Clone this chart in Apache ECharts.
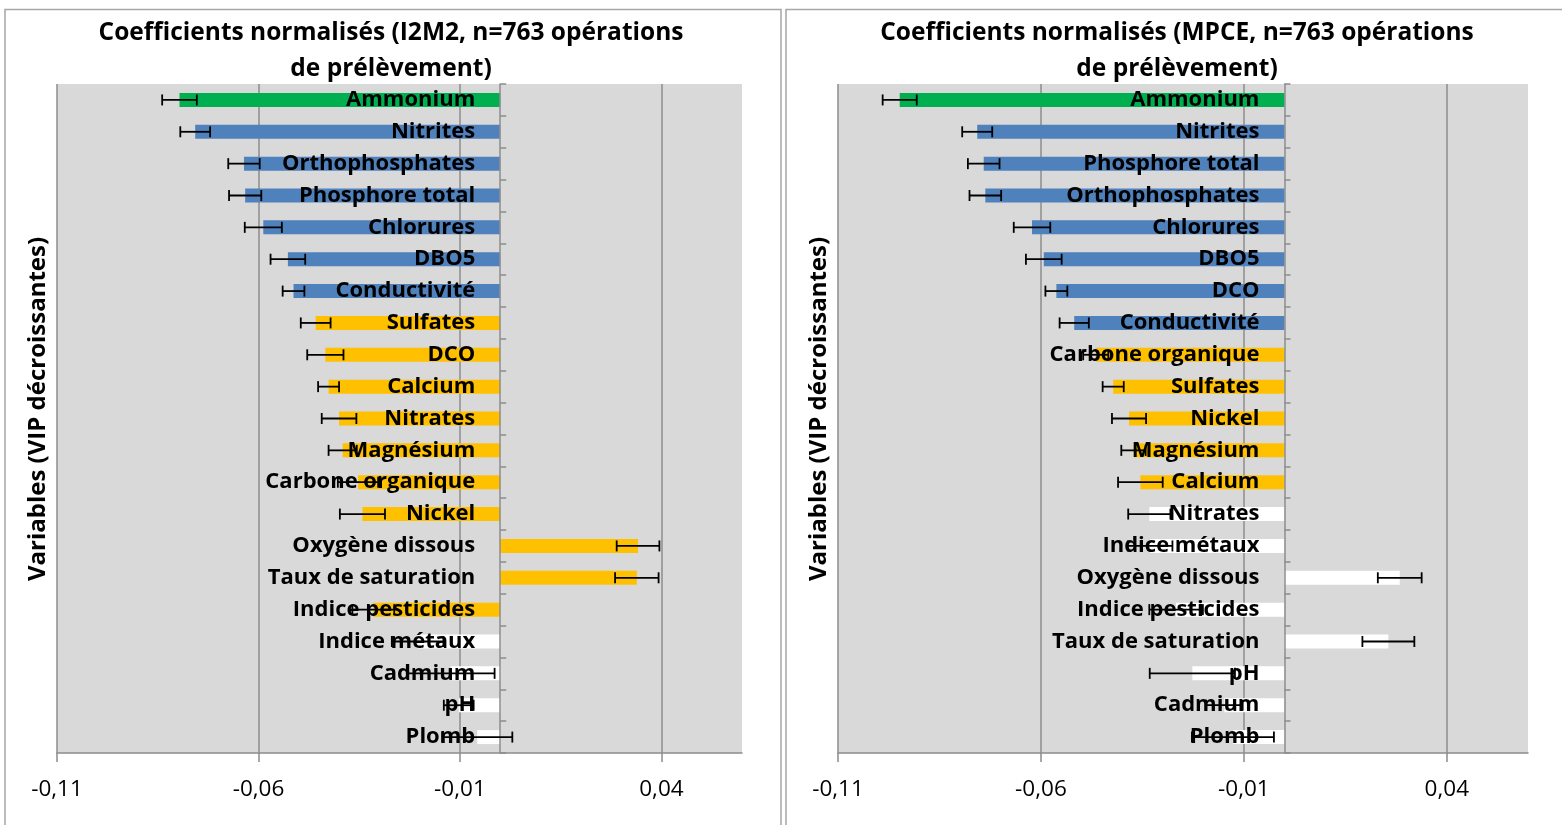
<!DOCTYPE html>
<html>
<head>
<meta charset="utf-8">
<script src="https://cdn.jsdelivr.net/npm/echarts@6/dist/echarts.min.js"></script>
<style>
html,body{margin:0;padding:0;background:#fff;}
#chart{width:1562px;height:825px;}
</style>
</head>
<body>
<div id="chart"></div>
<script>
// ---------- DATA ----------
const titleI2M2 = 'Coefficients normalisés (I2M2, n=763 opérations\nde prélèvement)';
const titleMPCE = 'Coefficients normalisés (MPCE, n=763 opérations\nde prélèvement)';
const yAxisTitle = 'Variables (VIP décroissantes)';

const catsI2M2 = ['Ammonium','Nitrites','Orthophosphates','Phosphore total','Chlorures','DBO5','Conductivité',
  'Sulfates','DCO','Calcium','Nitrates','Magnésium','Carbone organique','Nickel','Oxygène dissous',
  'Taux de saturation','Indice pesticides','Indice métaux','Cadmium','pH','Plomb'];
const valsI2M2 = [-0.0796,-0.0757,-0.0636,-0.0633,-0.0588,-0.0527,-0.0513,-0.0458,-0.0434,-0.0426,-0.0400,
  -0.0391,-0.0353,-0.0342,0.0342,0.0339,-0.0315,-0.0205,-0.0123,-0.0103,-0.0057];
const errsI2M2 = [0.0043,0.0037,0.0039,0.0040,0.0046,0.0043,0.0027,0.0037,0.0045,0.0026,0.0043,
  0.0035,0.0050,0.0056,0.0053,0.0054,0.0052,0.0064,0.0109,0.0037,0.0087];
const groupsI2M2 = ['A','B','B','B','B','B','B','C','C','C','C','C','C','C','C','C','C','D','D','D','D'];

const catsMPCE = ['Ammonium','Nitrites','Phosphore total','Orthophosphates','Chlorures','DBO5','DCO',
  'Conductivité','Carbone organique','Sulfates','Nickel','Magnésium','Calcium','Nitrates','Indice métaux',
  'Oxygène dissous','Indice pesticides','Taux de saturation','pH','Cadmium','Plomb'];
const valsMPCE = [-0.0948,-0.0757,-0.0741,-0.0737,-0.0622,-0.0593,-0.0562,-0.0518,-0.0465,-0.0422,-0.0383,
  -0.0372,-0.0355,-0.0333,-0.0331,0.0284,-0.0267,0.0256,-0.0227,-0.0148,-0.0127];
const errsMPCE = [0.0042,0.0037,0.0039,0.0039,0.0045,0.0044,0.0027,0.0036,0.0031,0.0026,0.0042,
  0.0030,0.0055,0.0052,0.0055,0.0054,0.0066,0.0064,0.0105,0.0045,0.0101];
const groupsMPCE = ['A','B','B','B','B','B','B','B','C','C','C','C','C','D','D','D','D','D','D','D','D'];

const xTicks = {min: -0.11, max: 0.06, interval: 0.05};

// ---------- STYLE ----------
const groupColors = {A:'#00B050', B:'#4F81BD', C:'#FFC000', D:'#FFFFFF'};
const FONT = '"Open Sans", "Noto Sans", sans-serif';
const AXIS_GRAY = '#8C8C8C';
const grids = [
  {left:57, top:84, width:685, height:669},
  {left:838, top:84, width:690, height:669}
];

const chart = echarts.init(document.getElementById('chart'), null, {renderer:'canvas'});

function xAxisCfg(gi){
  return {
    type:'value', gridIndex:gi, min:xTicks.min, max:xTicks.max, interval:xTicks.interval,
    axisLine:{show:true, onZero:false, lineStyle:{color:AXIS_GRAY, width:1.5}},
    axisTick:{show:true, length:9, lineStyle:{color:AXIS_GRAY, width:1.5}},
    splitLine:{show:true, showMaxLine:false, lineStyle:{color:AXIS_GRAY, width:1.5}},
    axisLabel:{show:true, showMaxLabel:false, margin:25, fontSize:22.5, color:'#000', fontFamily:FONT,
      formatter:(v)=> (Math.round(v*100)/100).toFixed(2).replace('.', ',')},
    z:0
  };
}
function yAxisCfg(gi, cats){
  // put the category axis on the zero of the value axis
  const zeroShift = grids[gi].width * (0 - xTicks.min) / (xTicks.max - xTicks.min);
  return {
    type:'category', gridIndex:gi, data:cats, inverse:true, position:'left', offset:-zeroShift,
    axisLine:{show:true, onZero:false, lineStyle:{color:AXIS_GRAY, width:1.5}},
    axisTick:{show:true, inside:true, length:6, lineStyle:{color:AXIS_GRAY, width:1.5}},
    splitLine:{show:false},
    axisLabel:{margin:25, fontSize:22, fontWeight:'bold', color:'#000', fontFamily:FONT},
    z:3
  };
}
function barSeries(idx, vals, groups){
  return {
    type:'bar', xAxisIndex:idx, yAxisIndex:idx, barWidth:14, z:1,
    data: vals.map((v,i)=>({value:v, itemStyle:{color:groupColors[groups[i]]}})),
    silent:true, animation:false
  };
}
function errSeries(idx, vals, errs){
  return {
    type:'custom', xAxisIndex:idx, yAxisIndex:idx, z:5, silent:true, animation:false,
    encode:{x:0, y:1},
    data: vals.map((v,i)=>[v, i, errs[i]]),
    renderItem:(params, api)=>{
      const v = api.value(0), c = api.value(1), e = api.value(2);
      const p1 = api.coord([v - e, c]);
      const p2 = api.coord([v + e, c]);
      const h = 5.5;
      const st = {stroke:'#000', lineWidth:1.8};
      return {type:'group', children:[
        {type:'line', shape:{x1:p1[0], y1:p1[1], x2:p2[0], y2:p2[1]}, style:st},
        {type:'line', shape:{x1:p1[0], y1:p1[1]-h, x2:p1[0], y2:p1[1]+h}, style:st},
        {type:'line', shape:{x1:p2[0], y1:p2[1]-h, x2:p2[0], y2:p2[1]+h}, style:st}
      ]};
    }
  };
}

const option = {
  animation:false,
  backgroundColor:'#fff',
  grid: grids.map(g => Object.assign({show:true, backgroundColor:'#D9D9D9', borderWidth:0,
    containLabel:false, outerBoundsMode:'none'}, g)),
  xAxis:[xAxisCfg(0), xAxisCfg(1)],
  yAxis:[yAxisCfg(0, catsI2M2), yAxisCfg(1, catsMPCE)],
  series:[
    barSeries(0, valsI2M2, groupsI2M2),
    barSeries(1, valsMPCE, groupsMPCE),
    errSeries(0, valsI2M2, errsI2M2),
    errSeries(1, valsMPCE, errsMPCE)
  ],
  graphic:[
    {type:'rect', silent:true, z:-10, shape:{x:5, y:9.5, width:776, height:830},
      style:{fill:null, stroke:'#A6A6A6', lineWidth:1.5}},
    {type:'rect', silent:true, z:-10, shape:{x:786, y:9.5, width:790, height:830},
      style:{fill:null, stroke:'#A6A6A6', lineWidth:1.5}},
    {type:'text', silent:true, x:391, y:51, z:10,
      style:{text:titleI2M2, font:'bold 24.5px ' + FONT, fill:'#000', align:'center', verticalAlign:'middle', lineHeight:36}},
    {type:'text', silent:true, x:1177, y:51, z:10,
      style:{text:titleMPCE, font:'bold 24.5px ' + FONT, fill:'#000', align:'center', verticalAlign:'middle', lineHeight:36}},
    {type:'text', silent:true, x:38, y:409, rotation:Math.PI/2, z:10,
      style:{text:yAxisTitle, font:'bold 24px ' + FONT, fill:'#000', align:'center', verticalAlign:'middle'}},
    {type:'text', silent:true, x:819, y:409, rotation:Math.PI/2, z:10,
      style:{text:yAxisTitle, font:'bold 24px ' + FONT, fill:'#000', align:'center', verticalAlign:'middle'}}
  ]
};
chart.setOption(option);
</script>
</body>
</html>
